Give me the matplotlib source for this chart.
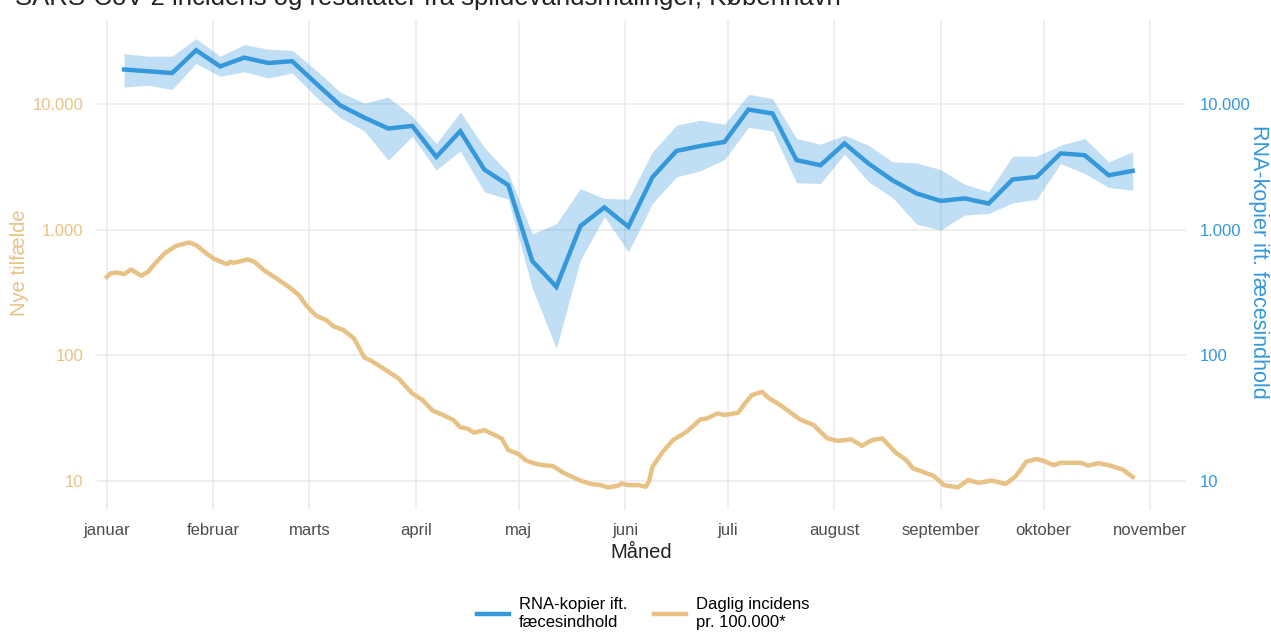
import matplotlib
matplotlib.use("Agg")
import matplotlib.pyplot as plt
import numpy as np
import pandas as pd

plt.rcParams['font.family'] = ['Liberation Sans', 'DejaVu Sans']

# RNA-kopier (ugentlige målinger) med usikkerhedsbånd
rna_dates = ['2021-01-06', '2021-01-13', '2021-01-20', '2021-01-27', '2021-02-03', '2021-02-10',
             '2021-02-17', '2021-02-24', '2021-03-03', '2021-03-10', '2021-03-17', '2021-03-24',
             '2021-03-31', '2021-04-07', '2021-04-14', '2021-04-21', '2021-04-28', '2021-05-05',
             '2021-05-12', '2021-05-19', '2021-05-26', '2021-06-02', '2021-06-09', '2021-06-16',
             '2021-06-23', '2021-06-30', '2021-07-07', '2021-07-14', '2021-07-21', '2021-07-28',
             '2021-08-04', '2021-08-11', '2021-08-18', '2021-08-25', '2021-09-01', '2021-09-08',
             '2021-09-15', '2021-09-22', '2021-09-29', '2021-10-06', '2021-10-13', '2021-10-20',
             '2021-10-27']
rna_mid = [18900, 18300, 17700, 26900, 20000, 23500, 21300, 22000, 14600, 9800, 7830, 6410,
           6720, 3810, 6100, 3020, 2270, 564, 352, 1070, 1510, 1060, 2620, 4250, 4650, 5010,
           9070, 8440, 3590, 3270, 4870, 3370, 2480, 1950, 1700, 1780, 1620, 2520, 2640, 4060,
           3930, 2720, 2950]
rna_hi = [25300, 24100, 24100, 33300, 24100, 29800, 27400, 26900, 18600, 12500, 10200, 11400,
          8030, 4860, 8690, 4530, 2840, 930, 1120, 2130, 1780, 1760, 4180, 6810, 7460, 6930,
          12000, 11100, 5340, 4810, 5660, 4720, 3480, 3410, 3020, 2310, 2010, 3860, 3860, 4720,
          5340, 3480, 4180]
rna_lo = [13700, 14200, 13100, 21100, 16700, 18100, 16200, 17700, 11400, 7830, 6130, 3580,
          5560, 2990, 4250, 2010, 1750, 342, 114, 574, 1270, 668, 1620, 2640, 2950, 3630,
          6530, 6130, 2370, 2340, 4000, 2410, 1810, 1110, 995, 1310, 1350, 1640, 1750, 3370,
          2810, 2170, 2070]

# daglig incidens pr. 100.000 (dage efter 1. januar)
inc_day = [0, 1, 3, 5, 7, 10, 12, 14, 17, 20, 24, 26, 29, 31, 35, 36, 37, 41, 43, 46,
           49, 53, 56, 58, 61, 64, 66, 69, 72, 75, 77, 81, 85, 89, 92, 95, 98, 101, 103, 105,
           107, 110, 113, 115, 117, 120, 122, 124, 127, 130, 133, 135, 138, 141, 144, 146, 149, 150, 152, 155,
           157, 158, 159, 162, 165, 169, 173, 175, 178, 180, 184, 186, 188, 191, 193, 196, 199, 202, 206, 208,
           210, 213, 217, 220, 223, 226, 230, 233, 235, 237, 241, 244, 248, 251, 254, 258, 262, 265, 268, 271,
           273, 276, 278, 284, 286, 289, 292, 296, 299]
inc_val = [423, 450, 458, 444, 484, 431, 463, 540, 656, 742, 794, 755, 649, 592, 533, 556, 546, 582, 556, 472,
           418, 352, 302, 252, 207, 191, 171, 159, 137, 96.6, 90.8, 77.5, 65.7, 49.9, 44.2, 36.3, 33.6, 30.6, 26.8, 26.3,
           24.3, 25.5, 23.3, 21.9, 17.7, 16.4, 14.7, 14.0, 13.4, 13.2, 11.7, 11.0, 10.1, 9.5, 9.3, 8.9, 9.2, 9.6, 9.3, 9.3,
           9.0, 9.9, 13.0, 17.1, 21.2, 24.7, 31.0, 31.6, 34.6, 33.6, 35.0, 41.6, 48.4, 51.4, 45.6, 40.8, 35.6, 31.0, 27.9, 24.7,
           21.9, 20.9, 21.5, 19.1, 21.2, 21.9, 16.8, 14.7, 12.6, 12.1, 11.0, 9.3, 8.9, 10.2, 9.7, 10.1, 9.5, 11.0, 14.3, 15.0,
           14.5, 13.4, 14.0, 14.0, 13.3, 13.9, 13.4, 12.4, 10.8]

month_labels = ['januar', 'februar', 'marts', 'april', 'maj', 'juni', 'juli',
                'august', 'september', 'oktober', 'november']
y_ticks = [10, 100, 1000, 10000]
y_labels = ['10', '100', '1.000', '10.000']

blue = '#3498DB'
tan = '#E8C285'
grid_col = '#EBEBEB'

rna_x = pd.to_datetime(rna_dates)
inc_x = pd.Timestamp('2021-01-01') + pd.to_timedelta(inc_day, unit='D')

fig = plt.figure(figsize=(12.71, 6.33), dpi=100)
ax = fig.add_axes([0.0763, 0.194, 0.857, 0.774])

ax.fill_between(rna_x, rna_lo, rna_hi, color=blue, alpha=0.3, linewidth=0)
l1, = ax.plot(rna_x, rna_mid, color=blue, lw=3.2, solid_joinstyle='miter',
              label='RNA-kopier ift.\nfæcesindhold')
l2, = ax.plot(inc_x, inc_val, color=tan, lw=3.2,
              label='Daglig incidens\npr. 100.000*')

ax.set_yscale('log')
ax.set_ylim(5.87, 46600)
ax.set_xlim(pd.Timestamp('2021-01-01') - pd.Timedelta(days=2.9),
            pd.Timestamp('2021-01-01') + pd.Timedelta(days=314.6))

month_starts = pd.date_range('2021-01-01', periods=len(month_labels), freq='MS')
ax.set_xticks(month_starts)
ax.set_xticklabels(month_labels, fontsize=12, color='#4D4D4D')
ax.set_yticks(y_ticks)
ax.set_yticklabels(y_labels, fontsize=12, color=tan)
ax.yaxis.set_minor_locator(matplotlib.ticker.NullLocator())
ax.tick_params(length=0, pad=10)
ax.tick_params(axis='x', pad=9)
ax.grid(True, color=grid_col, lw=1.1)
ax.set_axisbelow(True)
for s in ax.spines.values():
    s.set_visible(False)

ax2 = ax.twinx()
ax2.set_yscale('log')
ax2.set_ylim(ax.get_ylim())
ax2.set_yticks(y_ticks)
ax2.set_yticklabels(y_labels, fontsize=12, color=blue)
ax2.yaxis.set_minor_locator(matplotlib.ticker.NullLocator())
ax2.tick_params(length=0, pad=10)
for s in ax2.spines.values():
    s.set_visible(False)

ax.set_xlabel('Måned', fontsize=14.5, color='#222222', labelpad=4)
fig.text(20 / 1271, 1 - 263 / 633, 'Nye tilfælde', fontsize=14.5, color=tan,
         rotation=90, ha='center', va='center')
fig.text(1259 / 1271, 1 - 262 / 633, 'RNA-kopier ift. fæcesindhold', fontsize=15.5,
         color=blue, rotation=270, ha='center', va='center')

fig.text(15 / 1271, 1 - 5 / 633, 'SARS-CoV-2 incidens og resultater fra spildevandsmålinger, København',
         fontsize=18.5, color='#222222', va='baseline', ha='left')

fig.legend(handles=[l1, l2], loc='center', bbox_to_anchor=(0.506, 0.031), ncol=2,
           frameon=False, fontsize=12, handlelength=1.9, columnspacing=1.6,
           handletextpad=0.6, labelspacing=0.2)

fig.savefig('out.png', dpi=100)
